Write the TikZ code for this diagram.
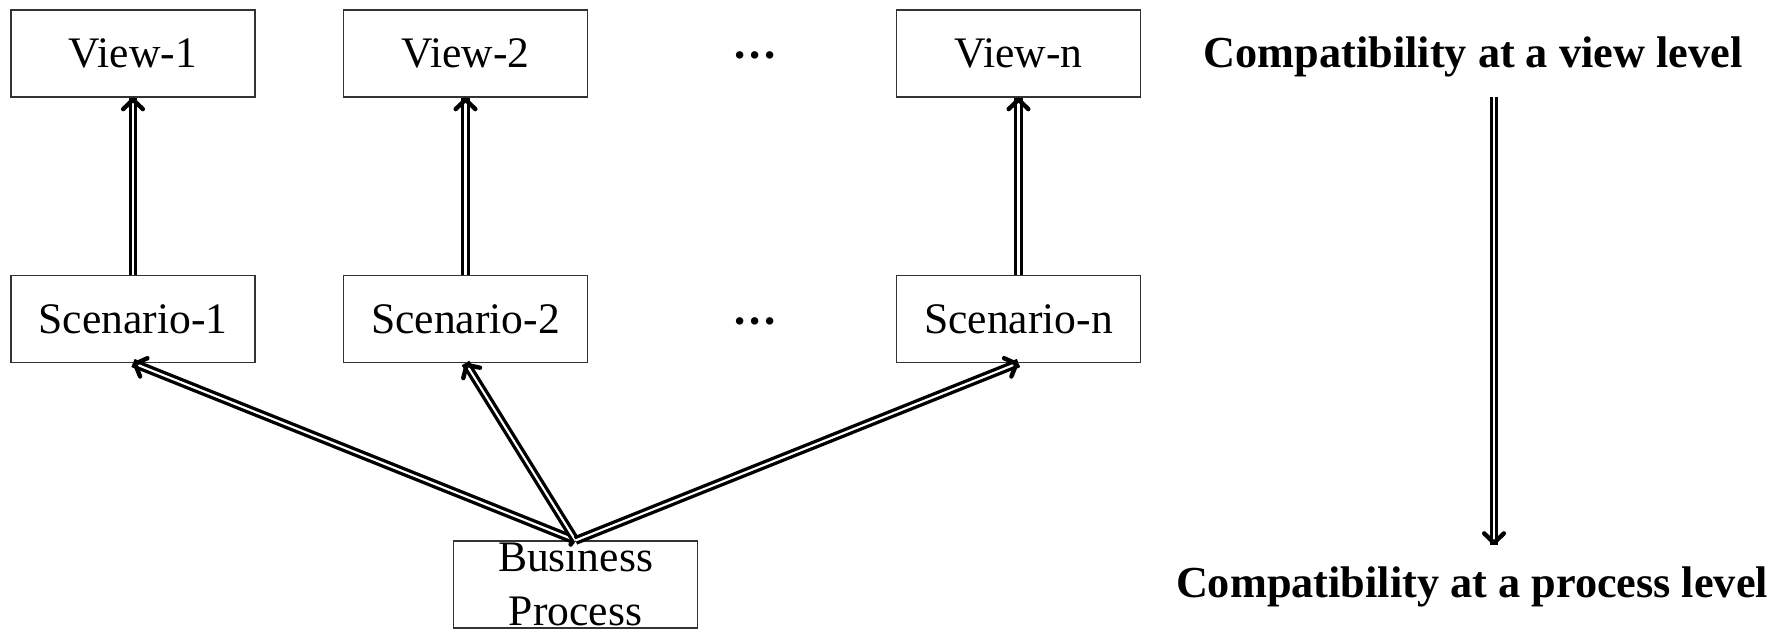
\documentclass[tikz,border=0pt]{standalone}
\usepackage{fontspec}
\setmainfont{Liberation Serif}
\usetikzlibrary{arrows.meta,positioning,decorations.markings}

\tikzset{
  box/.style={draw=black!80, line width=0.3pt, minimum width=2.44cm, minimum height=0.87cm,
    inner sep=0pt, align=center, font=\fontsize{12.4}{15.2}\selectfont},
  chevron/.style={postaction={decorate, decoration={markings, mark=at position 1 with {
    \draw[line width=1.25pt, line join=round, line cap=round] (-3.3pt,2.8pt) -- (-0.6pt,0pt) -- (-3.3pt,-2.8pt);}}}},
  dbl/.style={double, double distance=0.6pt, line width=0.95pt, chevron},
  thindbl/.style={double, double distance=0.55pt, line width=0.75pt, chevron},
  level/.style={font=\fontsize{12.6}{13}\selectfont\bfseries, inner sep=0pt},
  dots/.style={font=\fontsize{13}{13}\selectfont\bfseries, inner sep=0pt},
}

\begin{document}
\begin{tikzpicture}
        \useasboundingbox (0,0) rectangle (17.85,6.3);

        % Views and scenarios
        \foreach \i/\x in {1/1.33, 2/4.655, n/10.185} {
          \node[box] (view\i) at (\x,5.765) {View-\i};
          \node[box] (scen\i) at (\x,3.11) {Scenario-\i};
          \draw[dbl] (scen\i.north) -- (view\i.south);
        }

        % Gaps
        \node[dots] (gapview) at (7.55,5.69) {···};
        \node[dots] (gapscen) at (7.55,3.03) {···};

        % Business process
        \node[box] (bp) at (5.755,0.455) {Business\\Process};
        \foreach \i in {1,2,n} {
          \draw[dbl] (bp.north) -- (scen\i.south);
        }

        % Levels
        \node[level] (lvview) at (14.73,5.735) {Compatibility at a view level};
        \node[level] (lvproc) at (14.72,0.43) {Compatibility at a process level};
        \coordinate (lvtop) at (14.94,5.33);
        \coordinate (lvbot) at (14.94,0.85);
        \draw[thindbl] (lvtop) -- (lvbot);
\end{tikzpicture}
\end{document}
